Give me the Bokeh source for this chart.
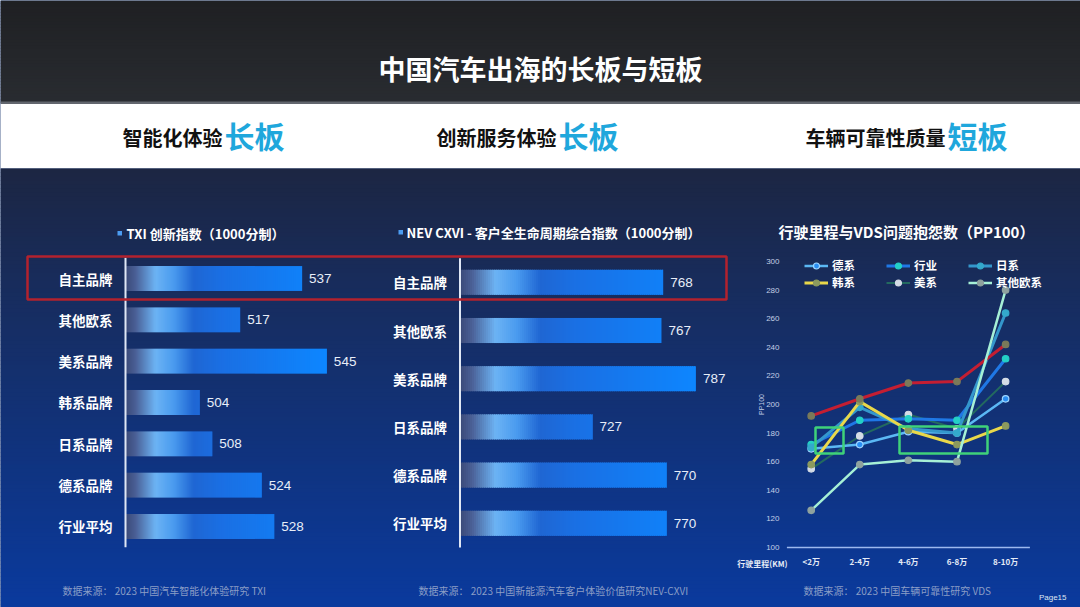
import math
from bokeh.plotting import figure
from bokeh.models import Range1d, Legend, LegendItem, ColumnDataSource
from bokeh.core.properties import value
from bokeh.embed import file_html
from bokeh.resources import INLINE

# ---------------- data ----------------
txi_brands = ["自主品牌", "其他欧系", "美系品牌", "韩系品牌", "日系品牌", "德系品牌", "行业平均"]
txi_scores = [537, 517, 545, 504, 508, 524, 528]
txi_axis_min = 480

cxvi_brands = ["自主品牌", "其他欧系", "美系品牌", "日系品牌", "德系品牌", "行业平均"]
cxvi_scores = [768, 767, 787, 727, 770, 770]
cxvi_axis_min = 650

mileage = ["<2万", "2-4万", "4-6万", "6-8万", "8-10万"]
pp100_zizhu = [192, 204, 215, 216, 242]
pp100_de = [169, 172, 181, 180, 204]
pp100_hangye = [172, 189, 190, 189, 232]
pp100_ri = [170, 198, 183, 180, 264]
pp100_han = [158, 202, 182, 172, 185]
pp100_mei = [155, 178, 193, 183, 216]
pp100_qita = [126, 158, 161, 160, 280]
pp100_ticks = [100, 120, 140, 160, 180, 200, 220, 240, 260, 280, 300]

# ---------------- helpers ----------------
W, H = 1080, 607
CJK = value("Noto Sans CJK SC")
LAT = value("Liberation Sans")


def hx(c):
    return tuple(int(c[i:i + 2], 16) for i in (1, 3, 5))


def mix(stops, t):
    if t <= stops[0][0]:
        return stops[0][1]
    for (a, ca), (b, cb) in zip(stops, stops[1:]):
        if t <= b:
            f = (t - a) / (b - a)
            r = [round(x + (y - x) * f) for x, y in zip(hx(ca), hx(cb))]
            return "#%02x%02x%02x" % tuple(r)
    return stops[-1][1]


def px_range(v_ref, px_ref, ppu, total):
    start = v_ref - px_ref / ppu
    return Range1d(start, start + total / ppu)


def px_range_down(i_ref, py_ref, ppu, total):
    return Range1d(i_ref + (total - py_ref) / ppu, i_ref - py_ref / ppu)


p = figure(width=W, height=H, x_range=Range1d(0, W), y_range=Range1d(H, 0),
           output_backend="svg", toolbar_location=None, min_border=0,
           x_axis_location=None, y_axis_location=None)
p.xgrid.grid_line_color = None
p.ygrid.grid_line_color = None
p.outline_line_color = None
p.background_fill_color = "#13306c"
p.border_fill_color = "#13306c"

# chart scales
C1_PPU, C2_PPU = 3.098, 1.722
p.extra_x_ranges = {
    "c1x": px_range(txi_axis_min, 125, C1_PPU, W),
    "c2x": px_range(cxvi_axis_min, 459.5, C2_PPU, W),
    "c3x": px_range(0, 810.7, 48.6, W),
}
p.extra_y_ranges = {
    "c1y": px_range_down(0, 278, 41.33, H),
    "c2y": px_range_down(0, 281.8, 48.2, H),
    "c3y": Range1d(100 - (H - 547) / 1.43, 100 + 547 / 1.43),
}

# ---------------- backgrounds ----------------
hdr_stops = [(0, "#1f2023"), (102, "#292c31")]
hy = list(range(0, 102, 3))
p.quad(left=0, right=W, top=hy, bottom=[y + 3.5 for y in hy],
       color=[mix(hdr_stops, y) for y in hy], line_color=None)
p.quad(left=0, right=W, top=[101], bottom=[103.5], color="#62666e", line_color=None)
p.quad(left=0, right=W, top=[103.5], bottom=[168], color="#ffffff", line_color=None)

body_stops = [(168, "#1c2643"), (300, "#172d60"), (450, "#10337e"), (607, "#0a3a9e")]
by = list(range(168, 607, 4))
p.quad(left=0, right=W, top=by, bottom=[y + 4.5 for y in by],
       color=[mix(body_stops, y) for y in by], line_color=None)

# ---------------- titles ----------------
p.text(x=[540], y=[68], text=["中国汽车出海的长板与短板"], text_font=CJK,
       text_font_size="27px", text_font_style="bold", text_color="#ffffff",
       text_align="center", text_baseline="middle")

band = [(222, "智能化体验", "长板"), (556, "创新服务体验", "长板"), (945, "车辆可靠性质量", "短板")]
p.text(x=[b[0] for b in band], y=[137] * 3, text=[b[1] for b in band], text_font=CJK,
       text_font_size="20px", text_font_style="bold", text_color="#111111",
       text_align="right", text_baseline="middle")
p.text(x=[b[0] + 2 for b in band], y=[134] * 3, text=[b[2] for b in band], text_font=CJK,
       text_font_size="30px", text_font_style="bold", text_color="#1fa7dc",
       text_align="left", text_baseline="middle")

# ---------------- bar charts ----------------
c1_stops = [(0, "#3a4977"), (10, "#4a5f95"), (30, "#6cb3f4"), (48, "#4a9bef"),
            (68, "#1f66d3"), (95, "#1a6fe3"), (200, "#0d86ff")]
c2_stops = [(a * 1.18, c) for a, c in c1_stops]


def bar_chart(cats, vals, base, ppu, stops, xr, yr, half, step=2.0):
    L, R, T, B, C = [], [], [], [], []
    for i, v in enumerate(vals):
        length = (v - base) * ppu
        k = 0
        while k * step < length:
            x0 = base + k * step / ppu
            x1 = min(base + (k + 1.5) * step / ppu, v)
            L.append(x0); R.append(x1); T.append(i - half); B.append(i + half)
            C.append(mix(stops, (k + 0.5) * step))
            k += 1
    p.quad(left=L, right=R, top=T, bottom=B, color=C, line_color=None,
           x_range_name=xr, y_range_name=yr)
    idx = list(range(len(cats)))
    p.segment(x0=[base], x1=[base], y0=[-0.5], y1=[len(cats) - 0.5],
              line_color="#dfe7f5", line_width=2, x_range_name=xr, y_range_name=yr)
    p.text(x=[base] * len(cats), y=idx, text=cats, x_offset=-13, text_font=CJK,
           text_font_size="13.5px", text_font_style="bold", text_color="#ffffff",
           text_align="right", text_baseline="middle", x_range_name=xr, y_range_name=yr)
    p.text(x=vals, y=idx, text=[str(v) for v in vals], x_offset=7, text_font=LAT,
           text_font_size="13.5px", text_color="#e8eef8", text_align="left",
           text_baseline="middle", x_range_name=xr, y_range_name=yr)


bar_chart(txi_brands, txi_scores, txi_axis_min, C1_PPU, c1_stops, "c1x", "c1y", 0.3)
bar_chart(cxvi_brands, cxvi_scores, cxvi_axis_min, C2_PPU, c2_stops, "c2x", "c2y", 0.26)

# chart titles
p.quad(left=[117, 398], right=[121.5, 402.5], top=[230.5, 229.5], bottom=[235, 234],
       color="#4b9cf2", line_color=None)
p.text(x=[126], y=[233], text=["TXI 创新指数（1000分制）"], text_font=CJK,
       text_font_size="13px", text_font_style="bold", text_color="#ffffff",
       text_baseline="middle")
p.text(x=[406], y=[232], text=["NEV CXVI - 客户全生命周期综合指数（1000分制）"], text_font=CJK,
       text_font_size="13px", text_font_style="bold", text_color="#ffffff",
       text_baseline="middle")

# highlight box
p.quad(left=[27], right=[726], top=[256], bottom=[299], fill_color=None,
       line_color="#b3222e", line_width=2.5)

# ---------------- line chart ----------------
p.text(x=[906], y=[231], text=["行驶里程与VDS问题抱怨数（PP100）"], text_font=CJK,
       text_font_size="15px", text_font_style="bold", text_color="#ffffff",
       text_align="center", text_baseline="middle")

p.text(x=[779] * len(pp100_ticks), y=pp100_ticks, text=[str(t) for t in pp100_ticks],
       text_font=LAT, text_font_size="8px", text_color="#c3cee6", text_align="right",
       text_baseline="middle", y_range_name="c3y")
p.text(x=[761], y=[404], text=["PP100"], angle=math.pi / 2, text_font=LAT,
       text_font_size="7px", text_color="#c3cee6", text_align="center",
       text_baseline="middle")
p.segment(x0=[-0.5], x1=[len(mileage) - 0.5], y0=[pp100_ticks[0]], y1=[pp100_ticks[0]],
          line_color="#9cb8ee", line_width=1.5, x_range_name="c3x", y_range_name="c3y")
p.text(x=list(range(len(mileage))), y=[561] * len(mileage), text=mileage, text_font=CJK,
       text_font_size="8px", text_font_style="bold", text_color="#e6ecf7",
       text_align="center", text_baseline="middle", x_range_name="c3x")
p.text(x=[787], y=[563], text=["行驶里程(KM)"], text_font=CJK, text_font_size="8px",
       text_font_style="bold", text_color="#e6ecf7", text_align="right",
       text_baseline="middle")

series = [
    ("美系", pp100_mei, "#236a5f", 2.0, "#d4dce6", "#d4dce6"),
    ("德系", pp100_de, "#5bb8f4", 2.5, "#2a8ef2", "#9fd6ff"),
    ("行业", pp100_hangye, "#1f78e6", 3.0, "#24d0c6", "#24d0c6"),
    ("日系", pp100_ri, "#3497cc", 3.0, "#34a9cc", "#34a9cc"),
    ("韩系", pp100_han, "#e9d84a", 3.0, "#8c9a5e", "#8c9a5e"),
    ("自主", pp100_zizhu, "#c41e32", 3.0, "#7a7a5a", "#7a7a5a"),
    ("其他欧系", pp100_qita, "#a6f0d6", 2.5, "#8fa29e", "#8fa29e"),
]
rend = {}
for name, vals, lc, lw, mf, ml in series:
    src = ColumnDataSource(dict(x=list(range(len(mileage))), y=vals))
    r1 = p.line("x", "y", source=src, line_color=lc, line_width=lw,
                x_range_name="c3x", y_range_name="c3y")
    r2 = p.scatter("x", "y", source=src, size=6.5, fill_color=mf, line_color=ml,
                   line_width=1.2, x_range_name="c3x", y_range_name="c3y")
    rend[name] = [r1, r2]

# annotation boxes
p.quad(left=[815, 899], right=[843, 987], top=[427, 426], bottom=[453, 453],
       fill_color=None, line_color="#3fd27a", line_width=2.5)

legend_order = ["德系", "行业", "日系", "韩系", "美系", "其他欧系"]
legend = Legend(items=[LegendItem(label=n, renderers=rend[n]) for n in legend_order],
                location=(804, H - 258 - 32), orientation="horizontal", ncols=3,
                padding=0, margin=0, spacing=1, label_standoff=4,
                glyph_width=24, glyph_height=15, label_width=53, label_height=15,
                background_fill_alpha=0, border_line_alpha=0,
                label_text_font="Noto Sans CJK SC", label_text_font_size="11.5px",
                label_text_font_style="bold", label_text_color="#ffffff")
p.add_layout(legend)

# ---------------- footnotes ----------------
p.text(x=[62, 418, 803], y=[590, 590, 590],
       text=["数据来源：  2023 中国汽车智能化体验研究 TXI",
             "数据来源：  2023 中国新能源汽车客户体验价值研究NEV-CXVI",
             "数据来源：  2023 中国车辆可靠性研究 VDS"],
       text_font=CJK, text_font_size="10px", text_color="#8a9dc6",
       text_baseline="middle")
p.text(x=[1066], y=[597], text=["Page15"], text_font=LAT, text_font_size="8px",
       text_color="#dfe6f2", text_align="right", text_baseline="middle")

open("out.html", "w").write(file_html(p, INLINE))
